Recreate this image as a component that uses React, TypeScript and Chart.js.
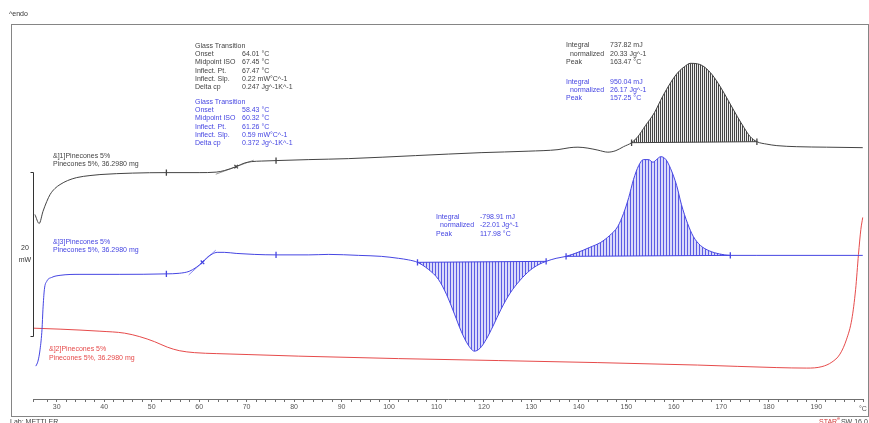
import { useEffect, useRef } from 'react';
import { Chart, registerables } from 'chart.js';

Chart.register(...registerables);

// Heat flow traces (mW, curves shifted vertically) against sample temperature (°C)
const run1Temps = [25.4, 26.3, 27.1, 27.9, 28.6, 29.6, 30.7, 32.3, 34.2, 37.0, 39.1, 46.0, 53.1, 60.0, 63.6, 65.3, 67.8, 69.5, 71.0, 73.1, 76.2, 83.1, 91.5, 105.6, 119.4, 129.3, 135.6, 138.1, 139.8, 141.9, 144.0, 146.1, 147.8, 149.4, 151.1, 152.4, 154.0, 155.9, 157.6, 159.3, 160.8, 162.2, 163.5, 165.0, 166.4, 168.1, 169.8, 171.5, 173.4, 174.8, 176.1, 177.5, 179.6, 181.7, 185.9, 192.2, 199.8];
const run1Flow = [22.56, 21.46, 22.93, 24.15, 25.0, 25.73, 26.22, 26.71, 27.07, 27.32, 27.44, 27.62, 27.68, 27.68, 27.74, 27.93, 28.41, 28.84, 29.02, 29.09, 29.15, 29.27, 29.39, 29.76, 30.12, 30.3, 30.49, 30.73, 30.79, 30.67, 30.43, 30.18, 30.37, 30.85, 31.34, 32.07, 33.41, 35.0, 36.95, 38.66, 39.88, 40.61, 41.04, 40.98, 40.61, 39.63, 38.17, 36.46, 34.51, 33.17, 32.07, 31.46, 31.16, 30.98, 30.85, 30.79, 30.73];

const run3Temps = [25.6, 26.05, 26.5, 26.9, 27.1, 27.4, 27.9, 29.0, 30.7, 34.9, 43.3, 53.1, 55.8, 57.9, 59.4, 60.7, 61.7, 62.8, 63.8, 65.3, 67.8, 71.6, 76.2, 83.1, 87.3, 93.6, 98.4, 102.0, 104.1, 106.0, 108.3, 110.4, 112.1, 113.8, 115.2, 116.7, 118.0, 119.2, 120.5, 121.9, 123.6, 125.5, 127.6, 129.7, 131.6, 133.1, 135.2, 137.3, 139.8, 142.3, 144.6, 146.5, 148.2, 149.4, 150.5, 151.5, 152.6, 153.6, 154.7, 155.6, 156.4, 157.25, 158.3, 159.3, 160.6, 161.6, 162.9, 164.1, 165.6, 167.5, 169.6, 171.9, 177.5, 199.8];
const run3Flow = [4.02, 4.63, 6.1, 8.54, 10.98, 13.41, 14.39, 14.88, 15.12, 15.24, 15.24, 15.3, 15.37, 15.61, 16.1, 16.71, 17.32, 17.74, 17.93, 17.93, 17.8, 17.68, 17.62, 17.62, 17.68, 17.56, 17.44, 17.2, 17.01, 16.71, 15.85, 14.63, 12.8, 10.37, 8.29, 6.59, 5.85, 6.22, 7.32, 8.9, 10.98, 12.93, 14.51, 15.73, 16.46, 16.83, 17.2, 17.44, 17.93, 18.54, 19.15, 20.0, 21.1, 22.68, 24.63, 26.83, 28.54, 29.27, 29.27, 28.95, 29.3, 29.63, 29.3, 28.2, 26.1, 23.78, 21.46, 19.88, 18.78, 18.11, 17.74, 17.56, 17.56, 17.56];

const run2Temps = [25.0, 30.7, 39.1, 44.3, 47.5, 50.6, 53.3, 55.8, 59.0, 63.6, 70.5, 81.0, 102.0, 123.0, 144.0, 165.0, 181.7, 188.0, 191.2, 193.3, 195.0, 196.4, 197.5, 198.3, 198.9, 199.4, 199.8];
const run2Flow = [8.66, 8.54, 8.29, 8.05, 7.62, 7.01, 6.34, 5.91, 5.67, 5.55, 5.43, 5.24, 4.94, 4.7, 4.45, 4.15, 3.84, 3.78, 3.96, 4.51, 5.49, 7.32, 9.76, 13.41, 17.68, 20.73, 22.2];

// Integration limits and their baselines
const run1PeakLimits = [151.1, 177.5];
const run1PeakBase = [31.34, 31.46];
const run3ExoLimits = [106.0, 133.1];
const run3ExoBase = [16.71, 16.83];
const run3EndoLimits = [137.3, 171.9];
const run3EndoBase = [17.44, 17.56];

// Glass transition tangents
const run1TangentT = [63.5, 71.5];
const run1TangentY = [27.48, 29.2];
const run3TangentT = [57.8, 63.5];
const run3TangentY = [15.17, 18.2];

// Evaluation limit markers
const run1MarkT = [53.1, 76.2, 151.1, 177.5];
const run1MarkY = [27.68, 29.15, 31.34, 31.46];
const run3MarkT = [53.1, 76.2, 106.0, 133.1, 137.3, 171.9];
const run3MarkY = [15.3, 17.62, 16.71, 16.83, 17.44, 17.56];
const run1InflT = [67.8];
const run1InflY = [28.41];
const run3InflT = [60.7];
const run3InflY = [16.71];

// Scale bar: 20 mW
const scaleBarFrom = 7.7;
const scaleBarSpan = 20;

const xMin = 25;
const xMax = 200;
const yMin = 0;
const yMax = 45.85;

const FONT = '"Liberation Sans", Arial, sans-serif';
const BLACK = '#444444';
const BLUE = '#4646e2';
const RED = '#e64b4b';

const pts = (xs: number[], ys: number[]) => xs.map((x, i) => ({ x, y: ys[i] }));
const within = (xs: number[], ys: number[], lim: number[]) =>
  pts(xs, ys).filter((p) => p.x >= lim[0] - 1e-6 && p.x <= lim[1] + 1e-6);

function hatch(line: string, gap: string | null, period: number): CanvasPattern | string {
  const c = document.createElement('canvas');
  c.width = period;
  c.height = 4;
  const g = c.getContext('2d');
  if (!g) return line;
  if (gap) {
    g.fillStyle = gap;
    g.fillRect(0, 0, period, 4);
  }
  g.fillStyle = line;
  g.fillRect(0, 0, 1, 4);
  return g.createPattern(c, 'repeat') || line;
}

type Row = [string, string];

const gtRun1: Row[] = [
  ['Glass Transition', ''],
  ['Onset', '64.01 °C'],
  ['Midpoint ISO', '67.45 °C'],
  ['Inflect. Pt.', '67.47 °C'],
  ['Inflect. Slp.', '0.22 mW°C^-1'],
  ['Delta cp', '0.247 Jg^-1K^-1'],
];
const gtRun3: Row[] = [
  ['Glass Transition', ''],
  ['Onset', '58.43 °C'],
  ['Midpoint ISO', '60.32 °C'],
  ['Inflect. Pt.', '61.26 °C'],
  ['Inflect. Slp.', '0.59 mW°C^-1'],
  ['Delta cp', '0.372 Jg^-1K^-1'],
];
const intRun1: Row[] = [
  ['Integral', '737.82 mJ'],
  ['  normalized', '20.33 Jg^-1'],
  ['Peak', '163.47 °C'],
];
const intRun3: Row[] = [
  ['Integral', '950.04 mJ'],
  ['  normalized', '26.17 Jg^-1'],
  ['Peak', '157.25 °C'],
];
const exoRun3: Row[] = [
  ['Integral', '-798.91 mJ'],
  ['  normalized', '-22.01 Jg^-1'],
  ['Peak', '117.98 °C'],
];

function drawRows(ctx: CanvasRenderingContext2D, rows: Row[], x: number, vx: number, y: number, step: number, color: string) {
  ctx.fillStyle = color;
  rows.forEach((r, i) => {
    ctx.fillText(r[0], x, y + i * step);
    if (r[1]) ctx.fillText(r[1], vx, y + i * step);
  });
}

const overlay = {
  id: 'dscOverlay',
  afterDraw(chart: any) {
    const ctx: CanvasRenderingContext2D = chart.ctx;
    const ys = chart.scales.y;
    const area = chart.chartArea;
    ctx.save();

    // outer frame
    ctx.strokeStyle = '#858585';
    ctx.lineWidth = 1;
    ctx.strokeRect(11.5, 24.5, 857, 392);

    ctx.font = `7px ${FONT}`;
    ctx.textBaseline = 'middle';
    ctx.textAlign = 'left';

    ctx.fillStyle = '#333';
    ctx.fillText('^endo', 9, 14);

    // 20 mW scale bar
    const top = Math.round(ys.getPixelForValue(scaleBarFrom + scaleBarSpan)) + 0.5;
    const bot = Math.round(ys.getPixelForValue(scaleBarFrom)) + 0.5;
    const bx = Math.round(area.left) + 0.5;
    ctx.strokeStyle = '#333';
    ctx.beginPath();
    ctx.moveTo(bx - 3, top);
    ctx.lineTo(bx, top);
    ctx.lineTo(bx, bot);
    ctx.lineTo(bx - 3, bot);
    ctx.stroke();
    ctx.fillStyle = '#333';
    ctx.textAlign = 'center';
    ctx.fillText('20', 25, (top + bot) / 2 - 6);
    ctx.fillText('mW', 25, (top + bot) / 2 + 6);
    ctx.textAlign = 'left';

    // evaluation results
    drawRows(ctx, gtRun1, 195, 242, 45.7, 8.3, BLACK);
    drawRows(ctx, gtRun3, 195, 242, 101.7, 8.3, BLUE);
    drawRows(ctx, intRun1, 566, 610, 45.3, 8.3, BLACK);
    drawRows(ctx, intRun3, 566, 610, 81.7, 8.3, BLUE);
    drawRows(ctx, exoRun3, 436, 480, 217, 8.3, BLUE);

    // curve names
    drawRows(ctx, [['&]1]Pinecones 5%', ''], ['Pinecones 5%, 36.2980 mg', '']], 53, 0, 156, 8.2, BLACK);
    drawRows(ctx, [['&]3]Pinecones 5%', ''], ['Pinecones 5%, 36.2980 mg', '']], 53, 0, 242, 8, BLUE);
    drawRows(ctx, [['&]2]Pinecones 5%', ''], ['Pinecones 5%, 36.2980 mg', '']], 49, 0, 349.5, 8.5, RED);

    // axis unit
    ctx.fillStyle = '#555';
    ctx.fillText('°C', 859, 409);

    // footer
    ctx.fillStyle = '#444';
    ctx.fillText('Lab: METTLER', 10, 422);
    let fx = 819;
    ctx.fillStyle = '#d23a3a';
    ctx.fillText('STAR', fx, 422);
    fx += ctx.measureText('STAR').width;
    ctx.font = `5px ${FONT}`;
    ctx.fillText('e', fx, 419);
    fx += ctx.measureText('e').width + 1;
    ctx.font = `7px ${FONT}`;
    ctx.fillStyle = '#444';
    ctx.fillText('SW 16.0', fx, 422);

    ctx.restore();
  },
};

export default function App() {
  const ref = useRef<HTMLCanvasElement>(null);

  useEffect(() => {
    const canvas = ref.current;
    if (!canvas) return;

    const blackHatch = hatch('rgba(50,50,50,0.9)', 'rgba(170,170,170,0.2)', 2);
    const blueHatch = hatch('rgba(70,70,225,0.85)', 'rgba(150,150,240,0.35)', 3);

    const line = (data: any, color: string, width: number, order: number) => ({
      data,
      showLine: true,
      borderColor: color,
      borderWidth: width,
      pointRadius: 0,
      cubicInterpolationMode: 'monotone' as const,
      fill: false,
      order,
    });

    const fillTo = (data: any, target: number, pattern: any) => ({
      data,
      showLine: true,
      borderWidth: 0,
      borderColor: 'rgba(0,0,0,0)',
      backgroundColor: pattern,
      pointRadius: 0,
      cubicInterpolationMode: 'monotone' as const,
      fill: target,
      order: 10,
    });

    const marks = (data: any, color: string, style: string, rot: number, r: number) => ({
      data,
      showLine: false,
      pointStyle: style,
      rotation: rot,
      pointRadius: r,
      pointBorderColor: color,
      pointBackgroundColor: color,
      pointBorderWidth: 1.3,
      order: 0,
    });

    const datasets: any[] = [
      line(pts(run1Temps, run1Flow), BLACK, 1, 1), // 0
      line(pts(run3Temps, run3Flow), BLUE, 1, 1), // 1
      line(pts(run2Temps, run2Flow), RED, 1, 1), // 2
      line(pts(run1PeakLimits, run1PeakBase), BLACK, 1, 5), // 3
      fillTo(within(run1Temps, run1Flow, run1PeakLimits), 3, blackHatch), // 4
      line(pts(run3ExoLimits, run3ExoBase), BLUE, 1, 5), // 5
      fillTo(within(run3Temps, run3Flow, run3ExoLimits), 5, blueHatch), // 6
      line(pts(run3EndoLimits, run3EndoBase), BLUE, 1, 5), // 7
      fillTo(within(run3Temps, run3Flow, run3EndoLimits), 7, blueHatch), // 8
      line(pts(run1TangentT, run1TangentY), '#9a9a9a', 1, 2), // 9
      line(pts(run3TangentT, run3TangentY), '#8c8cf0', 1, 2), // 10
      marks(pts(run1MarkT, run1MarkY), BLACK, 'line', 90, 3.2),
      marks(pts(run3MarkT, run3MarkY), BLUE, 'line', 90, 3.2),
      marks(pts(run1InflT, run1InflY), BLACK, 'crossRot', 0, 2.5),
      marks(pts(run3InflT, run3InflY), BLUE, 'crossRot', 0, 2.5),
    ];

    const chart = new Chart(canvas, {
      type: 'scatter',
      data: { datasets },
      options: {
        responsive: false,
        animation: false,
        devicePixelRatio: 1,
        layout: { padding: { left: 33, right: 2.5, top: 24, bottom: 10.6 } },
        plugins: { legend: { display: false }, tooltip: { enabled: false } },
        scales: {
          x: {
            type: 'linear',
            position: 'bottom',
            min: xMin,
            max: xMax,
            border: { display: true, color: '#6f6f6f', width: 1 },
            grid: { display: true, drawOnChartArea: false, drawTicks: true, tickLength: 3, color: '#6f6f6f' },
            ticks: {
              stepSize: 2,
              autoSkip: false,
              maxRotation: 0,
              minRotation: 0,
              padding: 1,
              color: '#555',
              font: { size: 7, family: FONT },
              callback: (v: any) => {
                const n = Number(v);
                return n % 10 === 0 && n >= 30 && n <= 190 ? String(n) : '';
              },
            },
          },
          y: { display: false, min: yMin, max: yMax },
        },
      } as any,
      plugins: [overlay],
    });

    return () => chart.destroy();
  }, []);

  return (
    <div style={{ position: 'fixed', left: 0, top: 0, width: 869, height: 423, background: '#fff' }}>
      <canvas ref={ref} width={869} height={423} style={{ display: 'block' }} />
    </div>
  );
}
